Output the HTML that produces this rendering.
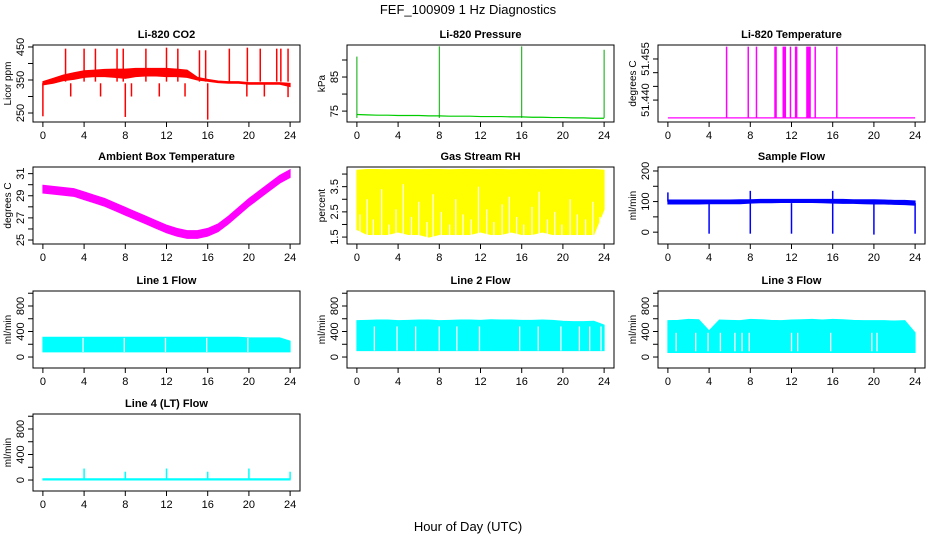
<!DOCTYPE html>
<html><head><meta charset="utf-8"><style>
html,body{margin:0;padding:0;background:#fff;}
svg{display:block;font-family:"Liberation Sans",Helvetica,Arial,sans-serif;}
</style></head><body>
<svg id="fig" width="936" height="540" viewBox="0 0 936 540">
<text x="468" y="14" text-anchor="middle" font-size="13">FEF_100909  1 Hz Diagnostics</text>
<text x="468" y="531" text-anchor="middle" font-size="13">Hour of Day (UTC)</text>
</svg>
<script>
// ---- data arrays ----
const hours = [0,1,2,3,4,5,6,7,8,9,10,11,12,13,14,15,16,17,18,19,20,21,22,23,24];
const xTicks = [0,4,8,12,16,20,24];
// CO2 (ppm) hourly envelope
const co2Lo = [335,340,348,352,358,360,360,358,355,360,362,362,360,360,358,350,346,342,340,340,337,337,337,337,330];
const co2Hi = [345,355,365,372,378,380,382,383,383,385,385,385,385,383,380,358,352,347,345,345,342,342,342,342,340];
const co2SpikeX = [2.2,4,5.1,7.2,7.8,10,12,13.1,15.2,15.8,18.1,19.85,21.1,22.7,23.1,23.8];
const co2SpikeY = [445,445,445,445,445,445,448,445,440,440,445,448,445,445,445,445];
const co2DipX = [0,2.7,5.6,8,8.6,11.3,13.8,16,19.8,21.5,23.8];
const co2DipY = [240,300,300,238,300,300,300,230,300,300,298];
// Pressure (kPa)
const presBase = [74,73.9,73.8,73.8,73.7,73.7,73.7,73.6,73.6,73.5,73.5,73.5,73.4,73.4,73.4,73.3,73.3,73.2,73.2,73.1,73.1,73.0,73.0,72.9,72.9];
const presSpikeX = [0,8,16,24];
const presSpikeY = [91,94,94,93];
// Li-820 temperature
const ltBase = 51.4335;
const ltSpikeX = [5.7,7.8,8.6,10.4,10.5,11.2,11.3,11.4,11.9,12.4,12.5,13.5,13.6,13.7,13.8,14.3,16.4];
const ltTop = 51.4595;
// Ambient box temperature
const ambMid = [29.6,29.5,29.4,29.3,29.0,28.7,28.4,28.0,27.6,27.2,26.8,26.4,26.0,25.7,25.5,25.5,25.7,26.1,26.8,27.6,28.4,29.1,29.8,30.5,31.0];
const ambSpread = 0.35;
// Gas stream RH (%)
const rhHi = [4.15,4.18,4.18,4.17,4.18,4.18,4.17,4.18,4.18,4.17,4.18,4.18,4.17,4.18,4.18,4.17,4.18,4.18,4.17,4.18,4.18,4.17,4.18,4.18,4.15];
const rhLo = [1.8,1.6,1.6,1.6,1.7,1.6,1.6,1.5,1.6,1.6,1.6,1.6,1.7,1.6,1.6,1.7,1.6,1.6,1.7,1.6,1.6,1.6,1.6,1.6,2.6];
const rhGapX = [0.3,1.0,1.6,2.4,3.1,3.8,4.5,5.3,6.0,6.8,7.4,8.2,9.0,9.6,10.3,11.1,11.8,12.6,13.3,14.1,14.8,15.5,16.2,17.0,17.7,18.5,19.2,19.9,20.7,21.4,22.2,22.9,23.6];
const rhGapTop = [2.4,3.0,2.2,3.4,2.0,2.6,3.6,2.3,2.9,2.1,3.2,2.5,2.0,3.0,2.4,2.2,3.5,2.6,2.1,2.8,3.1,2.3,2.0,2.7,3.3,2.2,2.5,2.0,3.0,2.4,2.2,2.9,2.3];
// Sample flow
const sfLo = [92,92,92,92,93,93,93,93,95,96,96,97,97,97,97,96,95,94,94,93,92,92,91,90,88];
const sfHi = [105,105,105,105,105,105,105,106,106,107,107,107,107,107,107,107,107,107,106,106,106,105,104,104,102];
const sfDipX = [4,8,12,16,20,24];
const sfDipY = [-5,-5,-5,-5,-8,-5];
const sfSpikeX = [0,8,16];
const sfSpikeY = [130,135,135];
// Line flows (ml/min)
const l1Lo = 80, l1Hi = [310,310,310,310,310,310,310,310,310,310,310,310,310,310,310,310,310,310,310,310,300,300,300,300,250];
const l1Gaps = [3.9,7.9,11.9,15.9,19.9];
const l2Lo = 100, l2Hi = [570,575,580,580,570,575,580,580,570,575,580,580,575,585,580,580,575,575,580,575,560,555,555,560,500];
const l2Gaps = [1.7,3.9,5.7,8,9.7,11.9,15.8,17.6,19.8,21.6,22.6,23.7];
const l3Lo = 70, l3Hi = [570,575,590,585,410,580,575,570,590,585,575,570,580,585,590,580,590,585,575,570,570,570,565,570,380];
const l3Gaps = [0.8,2.7,3.9,5.1,6.5,7.2,7.9,12,12.6,15.8,19.8,20.3];
const l4Lo = 0, l4Hi = 20;
const l4SpikeX = [4,8,12,16,20,24];
const l4SpikeY = [180,130,180,130,180,130];

// ---- layout ----
const colL = [33,347,658], W = 267;
const rowT = [45,167,291,414], H = 77;
const svg = document.getElementById('fig');
const NS = 'http://www.w3.org/2000/svg';
function mk(tag, attrs, name, parent){
  const el = document.createElementNS(NS, tag);
  for (const k in attrs) el.setAttribute(k, attrs[k]);
  
  
  (parent||svg).appendChild(el);
  return el;
}
function panel(o){
  const g = mk('g', {}, o.name);
  const L = colL[o.col], T = rowT[o.row];
  const xs = h => L + W*0.04/1.08 + (h/24)*W/1.08;
  const ys = v => T + H - (v - o.y0)/(o.y1 - o.y0)*H;
  o.draw(g, xs, ys);
  mk('rect', {x:L, y:T, width:W, height:H, fill:'none', stroke:'#000', 'stroke-width':1}, 'plot-box', g);
  mk('line', {x1:xs(0), x2:xs(24), y1:T+H, y2:T+H, stroke:'#000'}, 'x-axis-line', g);
  xTicks.forEach(t => {
    mk('line', {x1:xs(t), x2:xs(t), y1:T+H, y2:T+H+5, stroke:'#000'}, 'x-tick', g);
    const tx = mk('text', {x:xs(t), y:T+H+17, 'text-anchor':'middle', 'font-size':11}, 'x-tick-label', g);
    tx.textContent = t;
  });
  const yt = o.yticks;
  mk('line', {x1:L, x2:L, y1:ys(yt[0]), y2:ys(yt[yt.length-1]), stroke:'#000'}, 'y-axis-line', g);
  yt.forEach(t => {
    mk('line', {x1:L-5, x2:L, y1:ys(t), y2:ys(t), stroke:'#000'}, 'y-tick', g);
  });
  o.ylabels.forEach(t => {
    const y = ys(parseFloat(t));
    const tx = mk('text', {x:L-9, y:y, 'text-anchor':'middle', 'font-size':11, transform:`rotate(-90 ${L-9} ${y})`}, 'y-tick-label', g);
    tx.textContent = t;
  });
  const yl = mk('text', {x:L-22, y:T+H/2, 'text-anchor':'middle', 'font-size':10, transform:`rotate(-90 ${L-22} ${T+H/2})`}, 'y-axis-title', g);
  yl.textContent = o.ylab;
  const ti = mk('text', {x:L+W/2, y:T-7, 'text-anchor':'middle', 'font-size':11, 'font-weight':'bold'}, 'panel-title', g);
  ti.textContent = o.title;
}
function band(g, xs, ys, lo, hi, col, name){
  let p = hours.map((h,i)=>xs(h)+','+ys(Array.isArray(hi)?hi[i]:hi)).join(' ');
  p += ' ' + hours.slice().reverse().map((h,j)=>{const i=hours.length-1-j; return xs(h)+','+ys(Array.isArray(lo)?lo[i]:lo);}).join(' ');
  mk('polygon', {points:p, fill:col, stroke:col, 'stroke-width':1}, name, g);
}
function vlines(g, xs, ys, X, Y, base, col, w, name){
  X.forEach((x,i)=>{
    mk('line', {x1:xs(x), x2:xs(x), y1:ys(base), y2:ys(Y[i]), stroke:col, 'stroke-width':w}, name, g);
  });
}
function gaps(g, xs, ys, X, lo, hiV, name){
  X.forEach(x=>{
    mk('line', {x1:xs(x), x2:xs(x), y1:ys(lo), y2:ys(hiV), stroke:'#fff', 'stroke-width':1.3}, name, g);
  });
}

panel({name:'panel-co2', col:0,row:0,title:'Li-820 CO2',ylab:'Licor ppm',y0:222.7,y1:456,
  yticks:[250,300,350,400,450], ylabels:['250','350','450'],
  draw:(g,xs,ys)=>{
    band(g,xs,ys,co2Lo,co2Hi,'#f00','co2-band');
    vlines(g,xs,ys,co2SpikeX,co2SpikeY,345,'#f00',1.5,'co2-spike');
    vlines(g,xs,ys,co2DipX,co2DipY,340,'#f00',1.5,'co2-dip');
  }});
panel({name:'panel-pressure', col:1,row:0,title:'Li-820 Pressure',ylab:'kPa',y0:71.8,y1:94.4,
  yticks:[75,80,85,90], ylabels:['75','85'],
  draw:(g,xs,ys)=>{
    mk('polyline',{points:hours.map((h,i)=>xs(h)+','+ys(presBase[i])).join(' '),fill:'none',stroke:'#0c0','stroke-width':1.2},'pressure-line',g);
    vlines(g,xs,ys,presSpikeX,presSpikeY,73,'#0a0',1,'pressure-spike');
  }});
panel({name:'panel-li820-temp', col:2,row:0,title:'Li-820 Temperature',ylab:'degrees C',y0:51.432,y1:51.4601,
  yticks:[51.440,51.445,51.450,51.455], ylabels:['51.440','51.455'],
  draw:(g,xs,ys)=>{
    mk('line',{x1:xs(0),x2:xs(24),y1:ys(ltBase),y2:ys(ltBase),stroke:'#f0f','stroke-width':1.2},'temp-baseline',g);
    vlines(g,xs,ys,ltSpikeX,ltSpikeX.map(()=>ltTop),ltBase,'#f0f',1.5,'temp-spike');
  }});
panel({name:'panel-ambient-temp', col:0,row:1,title:'Ambient Box Temperature',ylab:'degrees C',y0:24.64,y1:31.6,
  yticks:[25,26,27,28,29,30,31], ylabels:['25','27','29','31'],
  draw:(g,xs,ys)=>{
    band(g,xs,ys,ambMid.map(v=>v-ambSpread),ambMid.map(v=>v+ambSpread),'#f0f','ambient-band');
  }});
panel({name:'panel-rh', col:1,row:1,title:'Gas Stream RH',ylab:'percent',y0:1.225,y1:4.28,
  yticks:[1.5,2,2.5,3,3.5,4], ylabels:['1.5','2.5','3.5'],
  draw:(g,xs,ys)=>{
    band(g,xs,ys,rhLo,rhHi,'#ff0','rh-band');
    rhGapX.forEach((x,i)=>{
      const el = mk('line',{x1:xs(x),x2:xs(x),y1:ys(1.4),y2:ys(rhGapTop[i]),stroke:'#fff','stroke-width':1.2},'rh-gap',g);
    });
  }});
panel({name:'panel-sample-flow', col:2,row:1,title:'Sample Flow',ylab:'ml/min',y0:-38.7,y1:213,
  yticks:[0,50,100,150,200], ylabels:['0','100','200'],
  draw:(g,xs,ys)=>{
    band(g,xs,ys,sfLo,sfHi,'#00f','sample-flow-band');
    vlines(g,xs,ys,sfDipX,sfDipY,95,'#00f',1.5,'sample-flow-dip');
    vlines(g,xs,ys,sfSpikeX,sfSpikeY,100,'#00f',1.5,'sample-flow-spike');
  }});
const flowTicks=[0,200,400,600,800,1000], flowLabels=['0','400','800'];
panel({name:'panel-line1-flow', col:0,row:2,title:'Line 1 Flow',ylab:'ml/min',y0:-172,y1:1035,
  yticks:flowTicks, ylabels:flowLabels,
  draw:(g,xs,ys)=>{ band(g,xs,ys,l1Lo,l1Hi,'#0ff','line1-band'); gaps(g,xs,ys,l1Gaps,l1Lo,300,'line1-gap'); }});
panel({name:'panel-line2-flow', col:1,row:2,title:'Line 2 Flow',ylab:'ml/min',y0:-172,y1:1035,
  yticks:flowTicks, ylabels:flowLabels,
  draw:(g,xs,ys)=>{ band(g,xs,ys,l2Lo,l2Hi,'#0ff','line2-band'); gaps(g,xs,ys,l2Gaps,l2Lo,480,'line2-gap'); }});
panel({name:'panel-line3-flow', col:2,row:2,title:'Line 3 Flow',ylab:'ml/min',y0:-172,y1:1035,
  yticks:flowTicks, ylabels:flowLabels,
  draw:(g,xs,ys)=>{ band(g,xs,ys,l3Lo,l3Hi,'#0ff','line3-band'); gaps(g,xs,ys,l3Gaps,l3Lo+20,380,'line3-gap'); }});
panel({name:'panel-line4-flow', col:0,row:3,title:'Line 4 (LT) Flow',ylab:'ml/min',y0:-172,y1:1035,
  yticks:flowTicks, ylabels:flowLabels,
  draw:(g,xs,ys)=>{ band(g,xs,ys,l4Lo,l4Hi,'#0ff','line4-band'); vlines(g,xs,ys,l4SpikeX,l4SpikeY,10,'#0ff',1.5,'line4-spike'); }});
</script>
</body></html>
